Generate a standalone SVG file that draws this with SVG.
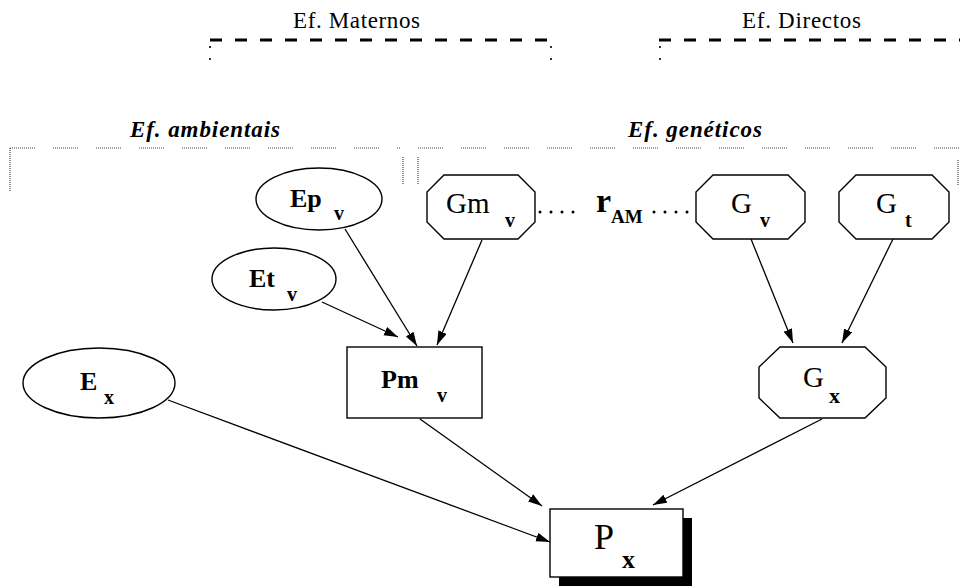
<svg xmlns="http://www.w3.org/2000/svg" width="960" height="586" viewBox="0 0 960 586">
<defs>
<marker id="ah" markerUnits="userSpaceOnUse" markerWidth="15" markerHeight="10" refX="14" refY="4.5" orient="auto">
<path d="M0,0 L14,4.5 L0,9 z" fill="#000"/>
</marker>
</defs>
<rect width="960" height="586" fill="#fff"/>

<g id="brackets">
<text font-family="Liberation Serif" font-size="23" x="293" y="28" textLength="127">Ef. Maternos</text>
<text font-family="Liberation Serif" font-size="23" x="742" y="28" textLength="119">Ef. Directos</text>
<path d="M210,40 H552 M659,40 H960" stroke="#000" stroke-width="3" stroke-dasharray="12 13" fill="none"/>
<path d="M210,46 V70 M551,46 V70 M660,46 V70" stroke="#000" stroke-width="1.6" stroke-dasharray="2 10" fill="none"/>
<text font-family="Liberation Serif" font-size="23" font-weight="bold" font-style="italic" x="130" y="137" textLength="150">Ef. ambientais</text>
<text font-family="Liberation Serif" font-size="23" font-weight="bold" font-style="italic" x="628" y="137" textLength="134">Ef. genéticos</text>
<path d="M10,148 H400 M418,148 H960" stroke="#444" stroke-width="1.2" stroke-dasharray="1 1 1 1 1 1 1 1 1 1 1 1 1 1 1 1 1 1 1 1 1 1 1 1 1 18" fill="none"/>
<path d="M10,148 V192 M403,157 V184 M418,157 V184 M958,160 V186" stroke="#444" stroke-width="1.2" stroke-dasharray="1 1" fill="none"/>
</g>

<g id="connectors" stroke="#000" stroke-width="1.3" fill="none">
<path marker-end="url(#ah)" d="M345,229 L417,346"/>
<path marker-end="url(#ah)" d="M482,240 L437,345"/>
<path marker-end="url(#ah)" d="M322,302 L398,337"/>
<path marker-end="url(#ah)" d="M751,239 L793,343"/>
<path marker-end="url(#ah)" d="M893,239 L842,343"/>
<path marker-end="url(#ah)" d="M822,419 L653,505"/>
<path marker-end="url(#ah)" d="M420,419 L542,506"/>
<path marker-end="url(#ah)" d="M168,400 L550,542"/>
<path d="M540,212 H584 M654,212 H688" stroke-width="3" stroke-linecap="round" stroke-dasharray="0 11"/>
</g>

<g id="rAM" font-family="Liberation Serif" font-weight="bold">
<text x="596" y="212" font-size="34">r</text>
<text x="611" y="223" font-size="19">AM</text>
</g>

<g id="Ep" font-family="Liberation Serif" font-weight="bold">
<ellipse cx="319" cy="199" rx="63" ry="31" fill="#fff" stroke="#000" stroke-width="1.4"/>
<text x="290" y="207" font-size="26">Ep</text>
<text x="334" y="220" font-size="20">v</text>
</g>

<g id="Et" font-family="Liberation Serif" font-weight="bold">
<ellipse cx="274" cy="279" rx="62" ry="31" fill="#fff" stroke="#000" stroke-width="1.4"/>
<text x="249" y="287" font-size="26">Et</text>
<text x="287" y="301" font-size="20">v</text>
</g>

<g id="Ex" font-family="Liberation Serif" font-weight="bold">
<ellipse cx="99" cy="383" rx="76" ry="35" fill="#fff" stroke="#000" stroke-width="1.4"/>
<text x="80" y="390" font-size="26">E</text>
<text x="104" y="404" font-size="20">x</text>
</g>

<g id="Pm" font-family="Liberation Serif" font-weight="bold">
<rect x="347" y="347" width="135" height="71" fill="#fff" stroke="#000" stroke-width="1.4"/>
<text x="381" y="388" font-size="26">Pm</text>
<text x="437" y="402" font-size="20">v</text>
</g>

<g id="Gm" font-family="Liberation Serif">
<path d="M444,175 H518 L535,192 V222 L518,239 H444 L427,222 V192 Z" fill="#fff" stroke="#000" stroke-width="1.4"/>
<text x="446" y="213" font-size="29">Gm</text>
<text x="505" y="227" font-size="20" font-weight="bold">v</text>
</g>

<g id="Gv" font-family="Liberation Serif">
<path d="M713,175 H788 L805,192 V222 L788,239 H713 L696,222 V192 Z" fill="#fff" stroke="#000" stroke-width="1.4"/>
<text x="731" y="213" font-size="29">G</text>
<text x="760" y="227" font-size="20" font-weight="bold">v</text>
</g>

<g id="Gt" font-family="Liberation Serif">
<path d="M856,175 H932 L949,192 V222 L932,239 H856 L839,222 V192 Z" fill="#fff" stroke="#000" stroke-width="1.4"/>
<text x="876" y="213" font-size="29">G</text>
<text x="905" y="227" font-size="20" font-weight="bold">t</text>
</g>

<g id="Gx" font-family="Liberation Serif">
<path d="M780,347 H865 L886,367 V398 L865,418 H780 L759,398 V367 Z" fill="#fff" stroke="#000" stroke-width="1.4"/>
<text x="803" y="387" font-size="29">G</text>
<text x="829" y="403" font-size="22" font-weight="bold">x</text>
</g>

<g id="Px" font-family="Liberation Serif">
<rect x="559" y="518" width="133" height="68" fill="#000"/>
<rect x="550" y="509" width="133" height="68" fill="#fff" stroke="#000" stroke-width="1.4"/>
<text x="594" y="549" font-size="36">P</text>
<text x="622" y="568" font-size="26" font-weight="bold">x</text>
</g>
</svg>
